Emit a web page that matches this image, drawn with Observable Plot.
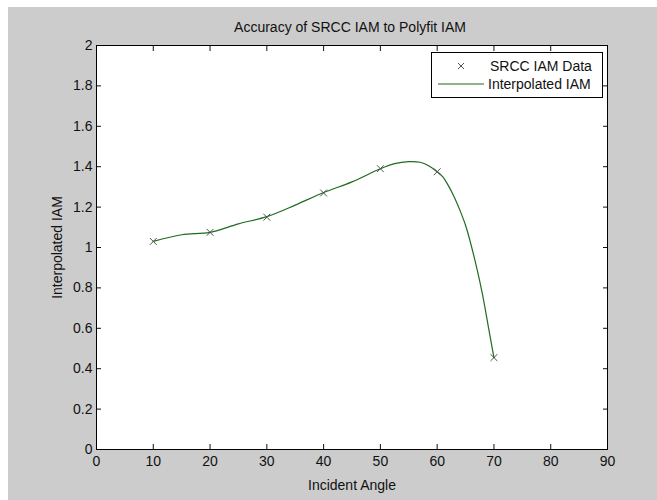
<!DOCTYPE html>
<html>
<head>
<meta charset="utf-8">
<script src="https://cdn.jsdelivr.net/npm/d3@7"></script>
<script src="https://cdn.jsdelivr.net/npm/@observablehq/plot@0.6"></script>
<style>
  html, body { margin: 0; padding: 0; background: #ffffff; }
  #wrap { position: relative; width: 657px; height: 500px; overflow: hidden; font-family: "Liberation Sans", Arial, sans-serif; }
  #bg { position: absolute; left: 8px; top: 7px; right: 0; bottom: 0; background: #cccccc; }
  #chart { position: absolute; left: 0; top: 0; }
  #title { position: absolute; left: 0; width: 700px; top: 19px; text-align: center; font-size: 14px; color: #111; }
  #legend { position: absolute; left: 431px; top: 52px; width: 170px; height: 44px; background: #fff; border: 1px solid #000; }
</style>
</head>
<body>
<div id="wrap">
  <div id="bg"></div>
  <div id="chart"></div>
  <div id="title">Accuracy of SRCC IAM to Polyfit IAM</div>
  <div id="legend"></div>
</div>
<script>
// Measured data points (SRCC IAM Data)
const dataAngle = [10, 20, 30, 40, 50, 60, 70];
const dataIAM = [1.03, 1.075, 1.15, 1.27, 1.39, 1.375, 0.455];

// Interpolated curve, values
const curveAngle = [10, 15, 20, 25, 30, 35, 40, 45, 50, 52.5, 55, 57, 58.5, 60, 61, 62, 63, 64, 65, 66, 67, 68, 69, 70];
const curveIAM = [1.03, 1.063, 1.075, 1.117, 1.153, 1.21, 1.272, 1.325, 1.39, 1.415, 1.425, 1.422, 1.405, 1.375, 1.35, 1.305, 1.25, 1.185, 1.11, 1.01, 0.895, 0.765, 0.61, 0.455];

const xTicks = [0, 10, 20, 30, 40, 50, 60, 70, 80, 90];
const yTicks = [0, 0.2, 0.4, 0.6, 0.8, 1, 1.2, 1.4, 1.6, 1.8, 2];

const pts = dataAngle.map((a, i) => ({a, v: dataIAM[i]}));
const crv = curveAngle.map((a, i) => ({a, v: curveIAM[i]}));

const lineColor = "#1f6b1f";
const markColor = "#505050";
const font = "Liberation Sans, Arial, sans-serif";

const plot = Plot.plot({
  width: 657,
  height: 500,
  marginLeft: 96,
  marginRight: 50,
  marginTop: 45,
  marginBottom: 51,
  style: {background: "transparent", fontFamily: font, fontSize: "14px", color: "#111", overflow: "visible"},
  x: {domain: [0, 90], ticks: xTicks},
  y: {domain: [0, 2], ticks: yTicks},
  marks: [
    Plot.frame({fill: "white", stroke: "none"}),
    Plot.line(crv, {x: "a", y: "v", stroke: lineColor, strokeWidth: 1.2, curve: "catmull-rom"}),
    Plot.dot(pts, {x: "a", y: "v", symbol: "times", r: 3.2, stroke: markColor, strokeWidth: 1}),
    Plot.axisX({anchor: "bottom", ticks: xTicks, tickSize: -5, tickPadding: 12, tickFormat: d => String(d), fontSize: 14,
      label: "Incident Angle", labelAnchor: "center", labelArrow: "none", labelOffset: 40}),
    Plot.axisX({anchor: "top", ticks: xTicks, tickSize: -5, tickFormat: () => "", label: null}),
    Plot.axisY({anchor: "left", ticks: yTicks, tickSize: -5, tickPadding: 9, tickFormat: d => String(d), fontSize: 14,
      label: "Interpolated IAM", labelAnchor: "center", labelArrow: "none", labelOffset: 44}),
    Plot.axisY({anchor: "right", ticks: yTicks, tickSize: -5, tickFormat: () => "", label: null}),
    Plot.frame({stroke: "black", strokeWidth: 1})
  ]
});
document.getElementById("chart").appendChild(plot);

// Legend
const lg = d3.select("#legend").append("svg").attr("width", 170).attr("height", 44)
  .style("font-family", font).style("font-size", "14px");
const sx = 29, sy = 13;
lg.append("path").attr("d", `M${sx-3},${sy-3}L${sx+3},${sy+3}M${sx-3},${sy+3}L${sx+3},${sy-3}`)
  .attr("stroke", markColor).attr("fill", "none");
lg.append("text").attr("x", 58).attr("y", sy).attr("dy", "0.35em").attr("fill", "#111").text("SRCC IAM Data");
lg.append("line").attr("x1", 6).attr("x2", 52).attr("y1", 31).attr("y2", 31).attr("stroke", lineColor).attr("stroke-width", 1.2);
lg.append("text").attr("x", 56).attr("y", 31).attr("dy", "0.35em").attr("fill", "#111").text("Interpolated IAM");
</script>
</body>
</html>
